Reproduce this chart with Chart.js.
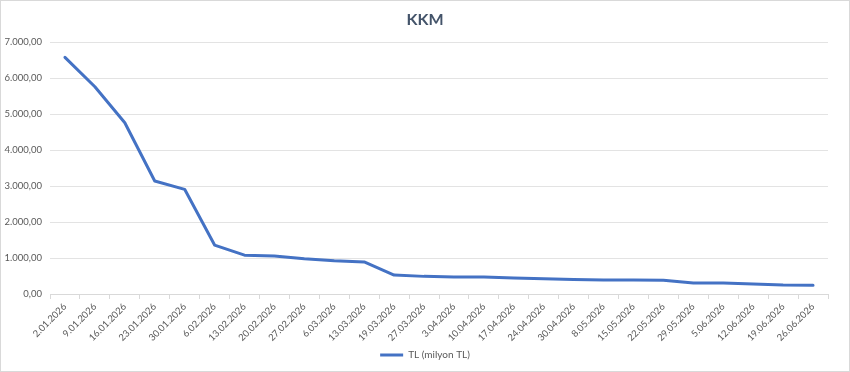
<!DOCTYPE html>
<html>
<head>
<meta charset="utf-8">
<script src="https://cdn.jsdelivr.net/npm/chart.js@4/dist/chart.umd.min.js"></script>
<style>
  html, body { margin: 0; padding: 0; background: #fff; }
  #wrap { width: 850px; height: 372px; position: relative; }
</style>
</head>
<body>
<div id="wrap"><canvas id="chart"></canvas></div>
<script>
const TITLE = "KKM";
const SERIES_LABEL = "TL (milyon TL)";
const LINE_COLOR = "#4472c4";

const dates = [
  "2.01.2026", "9.01.2026", "16.01.2026", "23.01.2026", "30.01.2026",
  "6.02.2026", "13.02.2026", "20.02.2026", "27.02.2026", "6.03.2026",
  "13.03.2026", "19.03.2026", "27.03.2026", "3.04.2026", "10.04.2026",
  "17.04.2026", "24.04.2026", "30.04.2026", "8.05.2026", "15.05.2026",
  "22.05.2026", "29.05.2026", "5.06.2026", "12.06.2026", "19.06.2026",
  "26.06.2026"
];

const tlValues = [
  6580, 5760, 4760, 3140, 2910,
  1360, 1080, 1055, 980, 925,
  890, 525, 490, 475, 470,
  445, 425, 400, 390, 390,
  380, 305, 305, 280, 250,
  240
];

const yMin = 0;
const yMax = 7000;
const yStep = 1000;

// 7000 -> "7.000,00"
const formatTr = (v) => {
  const [intPart, dec] = Number(v).toFixed(2).split(".");
  return intPart.replace(/\B(?=(\d{3})+(?!\d))/g, ".") + "," + dec;
};

const FONT = "Lato, 'Open Sans', sans-serif";
const TEXT_COLOR = "#595959";
const GRID_COLOR = "#e3e3e3";

// thin frame round the whole picture, like the Excel chart border
const framePlugin = {
  id: "frame",
  beforeDraw(chart) {
    const { ctx, width, height } = chart;
    ctx.save();
    ctx.fillStyle = "#fff";
    ctx.fillRect(0, 0, width, height);
    ctx.strokeStyle = "#d9d9d9";
    ctx.lineWidth = 1;
    ctx.strokeRect(0.5, 0.5, width - 1, height - 1);
    ctx.restore();
  },
};

new Chart(document.getElementById("chart").getContext("2d"), {
  type: "line",
  data: {
    labels: dates,
    datasets: [
      {
        label: SERIES_LABEL,
        data: tlValues,
        borderColor: LINE_COLOR,
        backgroundColor: LINE_COLOR,
        borderWidth: 3,
        borderJoinStyle: "round",
        borderCapStyle: "round",
        tension: 0,
        pointRadius: 0,
        fill: false,
      },
    ],
  },
  options: {
    responsive: true,
    maintainAspectRatio: false,
    animation: false,
    layout: { padding: { left: 0, right: 0, top: 0, bottom: 2 } },
    plugins: {
      title: {
        display: true,
        text: TITLE,
        color: "#44546a",
        font: { family: FONT, size: 16, weight: "bold" },
        padding: { top: 10, bottom: 13 },
      },
      legend: {
        position: "bottom",
        labels: {
          color: TEXT_COLOR,
          font: { family: FONT, size: 10 },
          boxWidth: 23,
          boxHeight: 3,
          padding: 8,
          generateLabels: (chart) =>
            chart.data.datasets.map((ds, i) => ({
              text: ds.label,
              fillStyle: ds.borderColor,
              strokeStyle: ds.borderColor,
              lineWidth: 0,
              fontColor: TEXT_COLOR,
              datasetIndex: i,
            })),
        },
      },
      tooltip: { enabled: false },
    },
    scales: {
      x: {
        type: "category",
        offset: true,
        afterFit: (scale) => { scale.height = 48; },
        grid: {
          display: true,
          drawOnChartArea: false,
          drawTicks: true,
          tickLength: 5,
          offset: true,
          color: "#d9d9d9",
        },
        border: { display: true, color: "#d9d9d9" },
        ticks: {
          autoSkip: false,
          maxRotation: 45,
          minRotation: 45,
          padding: 2,
          color: TEXT_COLOR,
          font: { family: FONT, size: 9.5 },
        },
      },
      y: {
        min: yMin,
        max: yMax,
        afterFit: (scale) => { scale.width = 50; },
        ticks: {
          stepSize: yStep,
          padding: 8,
          color: TEXT_COLOR,
          font: { family: FONT, size: 9.5 },
          callback: (v) => formatTr(v),
        },
        grid: { color: GRID_COLOR, drawTicks: false },
        border: { display: false },
      },
      // empty right-hand spacer so title and legend stay centred on the full width
      yRight: {
        position: "right",
        afterFit: (scale) => { scale.width = 22; },
        grid: { display: false },
        ticks: { display: false },
        border: { display: false },
      },
    },
  },
  plugins: [framePlugin],
});
</script>
</body>
</html>
